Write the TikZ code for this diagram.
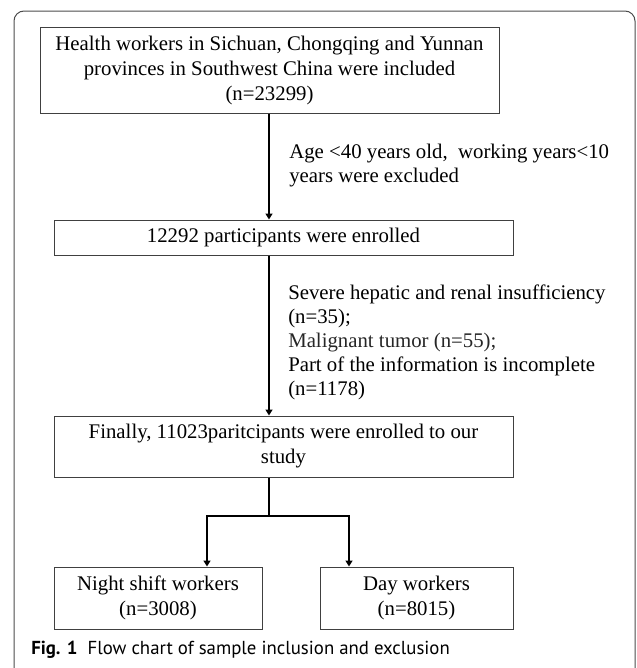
\documentclass[tikz,border=0pt]{standalone}
\usepackage{fontspec}
\setmainfont{Liberation Serif}
\newfontfamily\capfont{PT Sans}
\usetikzlibrary{arrows.meta}

\begin{document}
\begin{tikzpicture}[x=0.75pt,y=0.75pt,yscale=-1,xscale=1,
  box/.style={draw=black!75, line width=0.75pt, inner sep=0pt, align=center, font=\fontsize{15.6}{18.75}\selectfont},
  note/.style={anchor=north west, inner sep=0pt, align=left, font=\fontsize{15.6}{18}\selectfont},
  conn/.style={line width=1.1pt},
  arr/.style={line width=1.1pt, -{Triangle[width=5.25pt,length=4.5pt]}}]
\useasboundingbox (0,0) rectangle (636,668);

%Shape: Rounded Rectangle (frame)
\begin{scope}
\clip (0,0) rectangle (636,668);
\draw [draw=black!70, line width=0.75pt, rounded corners=7.5pt] (14,11) rectangle (635,680);
\end{scope}

%Shape: Rectangle
\node [box, minimum width=344.25pt, minimum height=64.5pt] (incl) at (269.5,70) {Health workers in Sichuan, Chongqing and Yunnan\\provinces in Southwest China were included\\(n=23299)};
%Shape: Rectangle
\node [box, minimum width=344.25pt, minimum height=26.25pt] (enrol) at (283.5,237.5) {12292 participants were enrolled};
%Shape: Rectangle
\node [box, minimum width=344.25pt, minimum height=45.75pt] (final) at (283.5,446.5) {Finally, 11023paritcipants were enrolled to our\\study};
%Shape: Rectangle
\node [box, minimum width=156pt, minimum height=46.5pt] (night) at (158,598) {Night shift workers\\(n=3008)};
%Shape: Rectangle
\node [box, minimum width=144.75pt, minimum height=46.5pt] (day) at (416.5,598) {Day workers\\(n=8015)};

% Text Node
\node [note] (excl1) at (289,144) {Age <40 years old,\ \ working years<10\\years were excluded};
% Text Node
\node [note] (excl2) at (288,285) {Severe hepatic and renal insufficiency\\(n=35);\\{\color{black!85}Malignant tumor (n=55);}\\Part of the information is incomplete\\(n=1178)};

%Straight Lines
\coordinate (split) at (269,516);
\coordinate (left) at (207,516);
\coordinate (right) at (349,516);
\draw [arr] (split |- incl.south) -- (split |- enrol.north);
\draw [arr] (split |- enrol.south) -- (split |- final.north);
\draw [conn] (split |- final.south) -- (split);
\draw [arr] (split) -- (left) -- (left |- night.north);
\draw [arr] (split) -- (right) -- (right |- day.north);

% Text Node
\node [anchor=west, inner sep=0pt, font=\capfont\fontsize{14.1}{16}\selectfont] (cap) at (31,650) {\textbf{Fig. 1}\ \ Flow chart of sample inclusion and exclusion};

\end{tikzpicture}
\end{document}
